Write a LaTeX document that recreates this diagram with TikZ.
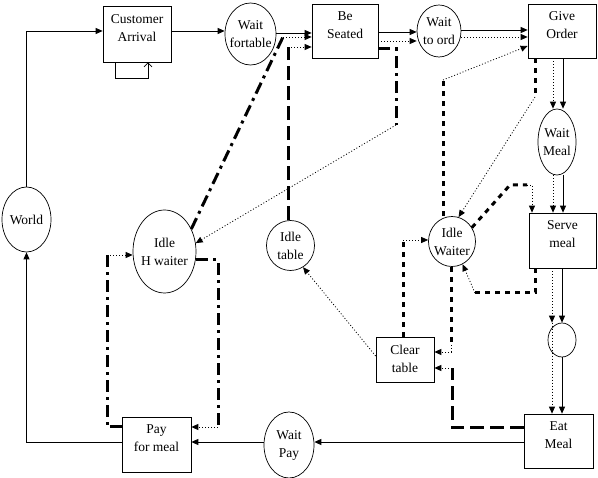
\documentclass[tikz,border=0pt]{standalone}
\usepackage{fontspec}
\setmainfont{Liberation Serif}
\usetikzlibrary{arrows.meta,shapes.geometric}
\begin{document}
\begin{tikzpicture}[x=1pt,y=-1pt,
  every node/.style={font=\fontsize{13.5}{18}\selectfont},
  box/.style={draw,line width=0.7pt,inner sep=0pt},
  oval/.style={draw,ellipse,line width=0.7pt,inner sep=0pt},
  txt/.style={align=center,inner sep=0pt,draw=none},
  t/.style={label={[txt]center:{#1}}},
  tb/.style={label={[txt,yshift=6pt]center:{#1}}},
  tip/.style={-{Triangle[length=7pt,width=6pt]}},
  sol/.style={line width=0.8pt,tip},
  dot/.style={line width=0.8pt,dash pattern=on 1pt off 2pt,tip},
  dashdot/.style={line width=3pt,dash pattern=on 12pt off 5pt on 3pt off 5pt},
  ldash/.style={line width=3pt,dash pattern=on 14pt off 6pt},
  sdash/.style={line width=3pt,dash pattern=on 5pt off 5pt},
]
\fill[white] (0,0) rectangle (598,478);
\useasboundingbox (0,0) rectangle (598,478);

% nodes
\node[box,minimum width=68pt,minimum height=56pt,tb={Customer\\Arrival}] (cust) at (137,34) {};
\node[oval,minimum width=51pt,minimum height=62pt,t={Wait\\fortable}] (wf) at (250.5,34) {};
\node[box,minimum width=66pt,minimum height=54pt,tb={Be\\Seated}] (seat) at (345,31) {};
\node[oval,minimum width=44pt,minimum height=52pt,t={Wait\\to ord}] (wto) at (439,31) {};
\node[box,minimum width=68pt,minimum height=54pt,tb={Give\\Order}] (give) at (562,31) {};
\node[oval,minimum width=38pt,minimum height=66pt,t={Wait\\Meal}] (wm) at (557,142) {};
\node[box,minimum width=67pt,minimum height=55pt,tb={Serve\\meal}] (serve) at (562.5,240.5) {};
\node[oval,minimum width=28pt,minimum height=34pt] (small) at (562,340) {};
\node[box,minimum width=69pt,minimum height=54pt,tb={Eat\\Meal}] (eat) at (558.5,441) {};
\node[box,minimum width=58pt,minimum height=45pt,label={[txt,yshift=1pt]center:{Clear\\table}}] (clear) at (405,359.5) {};
\node[oval,minimum width=47pt,minimum height=50pt,t={Idle\\Waiter}] (iw) at (452,241.5) {};
\node[oval,minimum width=48pt,minimum height=50pt,t={Idle\\table}] (itab) at (290.5,245.5) {};
\node[oval,minimum width=63pt,minimum height=83pt,t={Idle\\H waiter}] (ihw) at (164.5,251.5) {};
\node[oval,minimum width=49pt,minimum height=65pt,t={World}] (world) at (26.5,219.5) {};
\node[box,minimum width=69pt,minimum height=55pt,tb={Pay\\for meal}] (pay) at (156.5,444.5) {};
\node[oval,minimum width=50pt,minimum height=66pt,t={Wait\\Pay}] (wpay) at (289,445) {};

% solid connectors
\draw[sol] (world.north) |- (cust.west |- 0,31);
\draw[sol] (cust.east |- 0,31) -- (wf.west |- 0,31);
\draw[sol] (wf.east |- 0,33) -- (seat.west |- 0,33);
\draw[sol] (seat.east |- 0,32) -- (wto.west |- 0,32);
\draw[sol] (wto.east |- 0,30) -- (give.west |- 0,30);
\draw[sol] (give.south -| 563,0) -- (wm.north -| 563,0);
\draw[sol] (wm.south -| 563,0) -- (serve.north -| 563,0);
\draw[sol] (serve.south -| 562,0) -- (small.north -| 562,0);
\draw[sol] (small.south -| 562,0) -- (eat.north -| 562,0);
\draw[sol] (eat.west |- 0,442) -- (wpay.east |- 0,442);
\draw[sol] (wpay.west |- 0,442) -- (pay.east |- 0,442);
\draw[sol] (pay.west |- 0,442) -| (world.south);
\draw[line width=0.7pt,-{Straight Barb[length=4pt,width=8pt]}] (cust.south -| 115,0) |- (148,78) -- (cust.south -| 148,0);

% dotted connectors
\draw[dot] (seat.east |- 0,41) -- (wto.west |- 0,41);
\draw[dot] (wto.east |- 0,37) -- (give.west |- 0,37);
\draw[dot] (give.south -| 553,0) -- (wm.north -| 553,0);
\draw[dot] (wm.south -| 553,0) -- (serve.north -| 553,0);
\draw[dot] (serve.south -| 552,0) -- (small.north -| 552,0);
\draw[dot] (small.north -| 552,0) -- (eat.north -| 552,0);

% mixed connectors
\coordinate (c1) at (283,37);
\draw[dashdot] (ihw.40) -- (c1);
\draw[dot] (c1) -- (seat.west |- c1);

\coordinate (c2) at (288,47);
\draw[ldash] (itab.north -| c2) -- (c2);
\draw[dot] (c2) -- (seat.west |- c2);

\coordinate (c3) at (396,125);
\draw[dashdot] (seat.east |- 0,49) -| (c3);
\draw[dot] (c3) -- (ihw.15);

\coordinate (c4) at (218,427);
\draw[dashdot] (ihw.east |- 0,260) -| (c4);
\draw[dot] (c4) -- (pay.east |- c4);

\coordinate (c5) at (107,255);
\draw[dashdot] (pay.west |- c4) -| (c5);
\draw[dot] (c5) -- (ihw.west |- c5);

\coordinate (c6) at (443,80);
\draw[sdash] (iw.north -| c6) -- (c6);
\draw[dot] (c6) -- (give.west |- 0,46);

\coordinate (c7) at (535,97);
\draw[sdash] (give.south -| c7) -- (c7);
\draw[dot] (c7) -- (iw.75);

\coordinate (c8) at (527,185);
\draw[sdash] (iw.35) -- (510,185) -- (c8);
\draw[dot] (c8) -| (serve.north -| 532,0);

\coordinate (c9) at (475,293);
\draw[sdash] (serve.south -| 535,0) |- (c9);
\draw[dot] (c9) -- (iw.-65);

\coordinate (c10) at (451,345);
\draw[sdash] (iw.south -| c10) -- (c10);
\draw[dot] (c10) |- (clear.east |- 0,352);

\coordinate (c11) at (403,240);
\draw[sdash] (clear.north -| c11) -- (c11);
\draw[dot] (c11) -- (iw.west |- c11);

\coordinate (c12) at (452,368);
\draw[ldash] (eat.west |- 0,428) -| (c12);
\draw[dot] (c12) -- (clear.east |- c12);

\draw[dot] (clear.west |- 0,356) -- (itab.-60);
\end{tikzpicture}
\end{document}
